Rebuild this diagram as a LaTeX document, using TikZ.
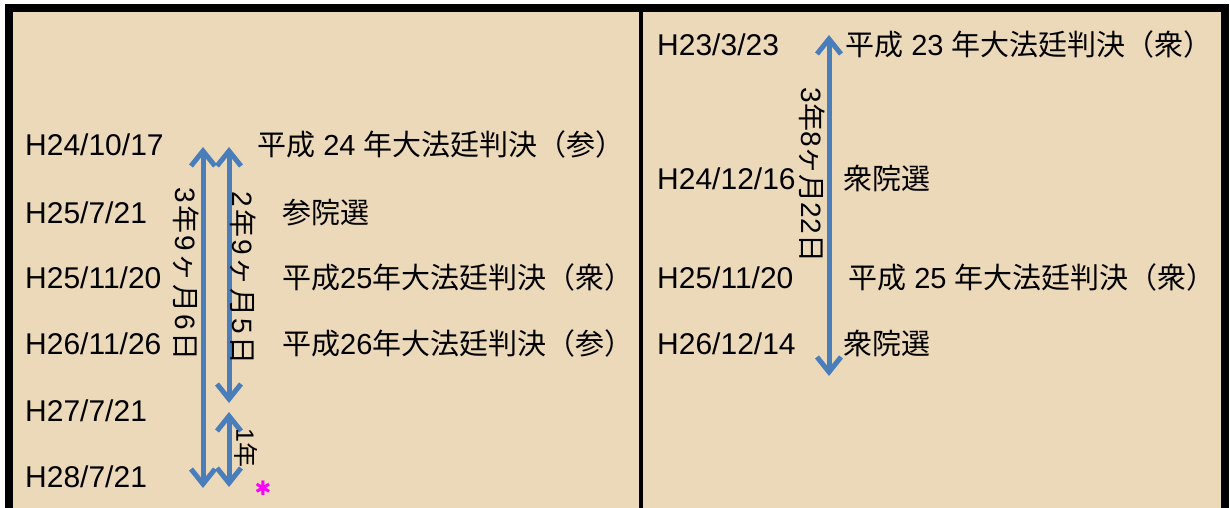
\documentclass[tikz,border=0pt]{standalone}
\usepackage{fontspec}
\setmainfont{Liberation Sans}
\newfontfamily\jpf{Noto Sans CJK JP}
\newfontfamily\symf{DejaVu Sans}
\usetikzlibrary{arrows.meta}
\definecolor{bgc}{HTML}{ECD9BA}
\definecolor{arrc}{HTML}{4A7EBB}
\definecolor{starc}{HTML}{FF00FF}
\newcommand{\J}[1]{{\jpf #1}}
\newcommand{\g}{\hspace{2.5pt}}
\begin{document}
\begin{tikzpicture}[x=1pt,y=-1pt,
  datelbl/.style={anchor=base west,inner sep=0pt,font=\fontsize{30}{34}\selectfont},
  evlbl/.style={anchor=base west,inner sep=0pt,font=\fontsize{29}{34}\selectfont},
  spanlbl/.style={rotate=-90,inner sep=0pt,font=\fontsize{28}{32}\selectfont},
  span/.style={draw=arrc,line width=5pt,{Straight Barb[length=15pt,width=24pt]}-{Straight Barb[length=15pt,width=24pt]}},
  frame/.style={draw=black,line width=8pt}
]
\useasboundingbox (0,0) rectangle (1230,508);
\fill[white] (0,0) rectangle (1230,508);
\fill[bgc] (8,8) rectangle (1225,520);
\draw[frame] (8.5,530) -- (8.5,8) -- (1224.5,8) -- (1224.5,530);
\draw[draw=black,line width=4.5pt] (641,8) -- (641,530);

% left panel dates
\node[datelbl] (d1) at (25,155) {H24/10/17};
\node[datelbl] (d2) at (25,223) {H25/7/21};
\node[datelbl] (d3) at (25,288) {H25/11/20};
\node[datelbl] (d4) at (25,354) {H26/11/26};
\node[datelbl] (d5) at (25,421) {H27/7/21};
\node[datelbl] (d6) at (25,487) {H28/7/21};

% left panel events
\node[evlbl] (e1) at (257,155) {\J{平成} 24 \J{年大法廷判決（参）}};
\node[evlbl] (e2) at (282,223) {\J{参院選}};
\node[evlbl] (e3) at (282,288) {\J{平成}25\J{年大法廷判決（衆）}};
\node[evlbl] (e4) at (282,354) {\J{平成}26\J{年大法廷判決（参）}};

% left arrows
\coordinate (a1t) at (203,147);
\coordinate (a1b) at (203,488);
\coordinate (a2t) at (229,147);
\coordinate (a2b) at (229,403);
\coordinate (a3t) at (229,412);
\coordinate (a3b) at (229,487);
\draw[span] (a1t) -- (a1b);
\draw[span] (a2t) -- (a2b);
\draw[span] (a3t) -- (a3b);
\node[spanlbl] (s1) at (186,274) {3\g\J{年}\g9\g\J{ヶ}\g\J{月}\g6\g\J{日}};
\node[spanlbl] (s2) at (243,278) {2\g\J{年}\g9\g\J{ヶ}\g\J{月}\g5\g\J{日}};
\node[spanlbl,font=\fontsize{25}{28}\selectfont] (s3) at (246,448) {1\J{年}};
\node[inner sep=0pt,text=starc,font=\symf\fontsize{20}{20}\selectfont] (star) at (263,488) {✱};

% right panel
\node[datelbl] (r1) at (657,56) {H23/3/23};
\node[datelbl] (r2) at (657,189) {H24/12/16};
\node[datelbl] (r3) at (657,288) {H25/11/20};
\node[datelbl] (r4) at (657,354) {H26/12/14};
\node[evlbl] (f1) at (845,56) {\J{平成} 23 \J{年大法廷判決（衆）}};
\node[evlbl] (f2) at (843,189) {\J{衆院選}};
\node[evlbl] (f3) at (848,288) {\J{平成} 25 \J{年大法廷判決（衆）}};
\node[evlbl] (f4) at (843,354) {\J{衆院選}};
\coordinate (rt) at (829,35);
\coordinate (rb) at (829,376);
\draw[span] (rt) -- (rb);
\node[spanlbl] (s4) at (812,175) {3\J{年}8\J{ヶ月}22\J{日}};
\end{tikzpicture}
\end{document}
